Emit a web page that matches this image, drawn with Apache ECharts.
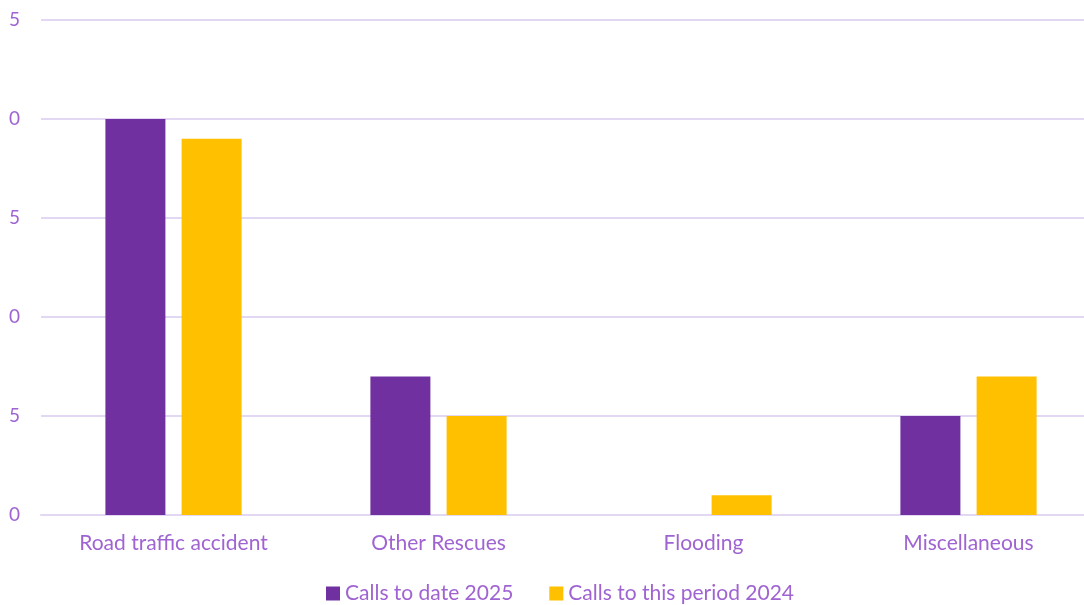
<!DOCTYPE html>
<html>
<head>
<meta charset="utf-8">
<script src="https://cdn.jsdelivr.net/npm/echarts@6/dist/echarts.min.js"></script>
<style>
  html, body { margin: 0; padding: 0; background: #fff; }
  #main { width: 1084px; height: 605px; }
</style>
</head>
<body>
<div id="main"></div>
<script>
const categories = ['Road traffic accident', 'Other Rescues', 'Flooding', 'Miscellaneous'];
const calls2025 = [20, 7, 0, 5];
const calls2024 = [19, 5, 1, 7];

const labelColor = '#A064D2';
const chart = echarts.init(document.getElementById('main'));

chart.setOption({
  backgroundColor: '#fff',
  textStyle: { fontFamily: 'Lato' },
  grid: { left: 41, width: 1060, top: 20, bottom: 90, outerBoundsMode: 'none', containLabel: false },
  legend: {
    top: 578,
    left: 321,
    icon: 'rect',
    itemWidth: 14,
    itemHeight: 14,
    itemGap: 36,
    textStyle: { color: labelColor, fontSize: 21, fontFamily: 'Lato' },
    data: ['Calls to date 2025', 'Calls to this period 2024']
  },
  xAxis: {
    type: 'category',
    data: categories,
    axisLine: { lineStyle: { color: '#E2D8F3', width: 2 } },
    axisTick: { show: false },
    axisLabel: { color: labelColor, fontSize: 21, margin: 18 }
  },
  yAxis: {
    type: 'value',
    min: 0,
    max: 25,
    interval: 5,
    axisLine: { show: false },
    axisTick: { show: false },
    splitLine: { lineStyle: { color: '#E2D8F3', width: 2 } },
    axisLabel: {
      color: labelColor,
      fontSize: 19,
      margin: 21,
      // labels in the source are clipped to their last digit
      formatter: v => String(v).slice(-1)
    }
  },
  series: [
    {
      name: 'Calls to date 2025',
      type: 'bar',
      data: calls2025,
      barWidth: 60,
      barGap: '27%',
      itemStyle: { color: '#7030A0' }
    },
    {
      name: 'Calls to this period 2024',
      type: 'bar',
      data: calls2024,
      barWidth: 60,
      itemStyle: { color: '#FFC000' }
    }
  ]
});
</script>
</body>
</html>
